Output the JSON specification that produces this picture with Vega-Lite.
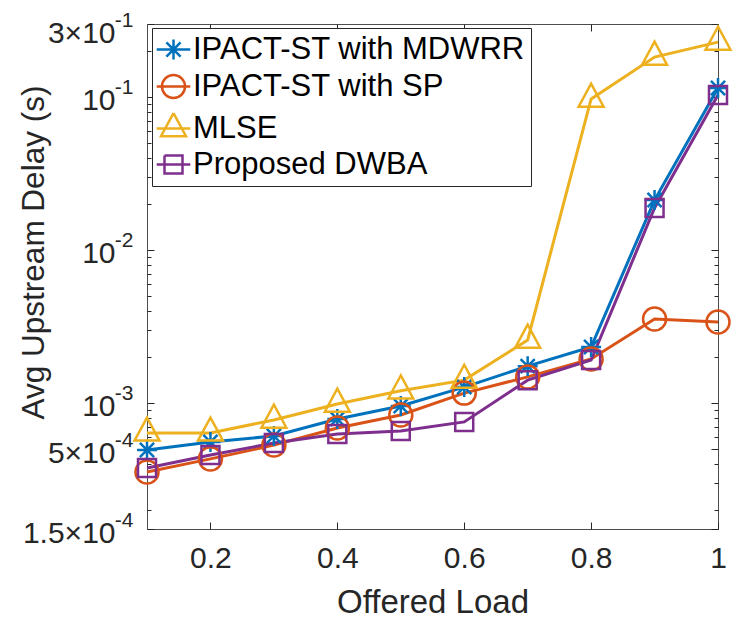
{
  "$schema": "https://vega.github.io/schema/vega-lite/v6.json",
  "width": 571,
  "height": 505,
  "autosize": {"type": "none"},
  "padding": {"left": 147, "top": 24, "right": 22, "bottom": 90},
  "background": "white",
  "config": {
    "font": "Liberation Sans",
    "view": {"stroke": "#4d4d4d", "strokeWidth": 1},
    "axis": {
      "domain": false,
      "grid": false,
      "labelFont": "Liberation Sans",
      "titleFont": "Liberation Sans",
      "labelColor": "#262626",
      "titleColor": "#262626",
      "tickColor": "#262626",
      "tickWidth": 1,
      "labelFlush": false,
      "labelOverlap": false,
      "labelBound": false,
      "titleFontWeight": "normal"
    },
    "legend": {
      "labelFont": "Liberation Sans",
      "labelColor": "#000000",
      "labelLimit": 600
    }
  },
  "data": {
    "values": [
      {"load": 0.1, "delay": 0.000493, "scheme": "IPACT-ST with MDWRR"},
      {"load": 0.2, "delay": 0.000556, "scheme": "IPACT-ST with MDWRR"},
      {"load": 0.3, "delay": 0.000608, "scheme": "IPACT-ST with MDWRR"},
      {"load": 0.4, "delay": 0.000785, "scheme": "IPACT-ST with MDWRR"},
      {"load": 0.5, "delay": 0.000955, "scheme": "IPACT-ST with MDWRR"},
      {"load": 0.6, "delay": 0.00127, "scheme": "IPACT-ST with MDWRR"},
      {"load": 0.7, "delay": 0.00174, "scheme": "IPACT-ST with MDWRR"},
      {"load": 0.8, "delay": 0.00232, "scheme": "IPACT-ST with MDWRR"},
      {"load": 0.9, "delay": 0.0212, "scheme": "IPACT-ST with MDWRR"},
      {"load": 1.0, "delay": 0.1145, "scheme": "IPACT-ST with MDWRR"},
      {"load": 0.1, "delay": 0.000354, "scheme": "IPACT-ST with SP"},
      {"load": 0.2, "delay": 0.000431, "scheme": "IPACT-ST with SP"},
      {"load": 0.3, "delay": 0.000531, "scheme": "IPACT-ST with SP"},
      {"load": 0.4, "delay": 0.000686, "scheme": "IPACT-ST with SP"},
      {"load": 0.5, "delay": 0.000834, "scheme": "IPACT-ST with SP"},
      {"load": 0.6, "delay": 0.00116, "scheme": "IPACT-ST with SP"},
      {"load": 0.7, "delay": 0.00148, "scheme": "IPACT-ST with SP"},
      {"load": 0.8, "delay": 0.00194, "scheme": "IPACT-ST with SP"},
      {"load": 0.9, "delay": 0.00354, "scheme": "IPACT-ST with SP"},
      {"load": 1.0, "delay": 0.00338, "scheme": "IPACT-ST with SP"},
      {"load": 0.1, "delay": 0.000637, "scheme": "MLSE"},
      {"load": 0.2, "delay": 0.000637, "scheme": "MLSE"},
      {"load": 0.3, "delay": 0.000774, "scheme": "MLSE"},
      {"load": 0.4, "delay": 0.000985, "scheme": "MLSE"},
      {"load": 0.5, "delay": 0.0012, "scheme": "MLSE"},
      {"load": 0.6, "delay": 0.00141, "scheme": "MLSE"},
      {"load": 0.7, "delay": 0.00258, "scheme": "MLSE"},
      {"load": 0.8, "delay": 0.0971, "scheme": "MLSE"},
      {"load": 0.9, "delay": 0.1824, "scheme": "MLSE"},
      {"load": 1.0, "delay": 0.2285, "scheme": "MLSE"},
      {"load": 0.1, "delay": 0.000376, "scheme": "Proposed DWBA"},
      {"load": 0.2, "delay": 0.000457, "scheme": "Proposed DWBA"},
      {"load": 0.3, "delay": 0.000547, "scheme": "Proposed DWBA"},
      {"load": 0.4, "delay": 0.000627, "scheme": "Proposed DWBA"},
      {"load": 0.5, "delay": 0.000656, "scheme": "Proposed DWBA"},
      {"load": 0.6, "delay": 0.000752, "scheme": "Proposed DWBA"},
      {"load": 0.7, "delay": 0.00141, "scheme": "Proposed DWBA"},
      {"load": 0.8, "delay": 0.00191, "scheme": "Proposed DWBA"},
      {"load": 0.9, "delay": 0.0188, "scheme": "Proposed DWBA"},
      {"load": 1.0, "delay": 0.1031, "scheme": "Proposed DWBA"}
    ]
  },
  "resolve": {
    "scale": {"x": "shared", "y": "shared"},
    "axis": {"x": "independent", "y": "independent"}
  },
  "layer": [
    {
      "mark": {"type": "line", "strokeWidth": 3},
      "encoding": {
        "x": {
          "field": "load",
          "type": "quantitative",
          "scale": {"domain": [0.1, 1], "nice": false, "zero": false},
          "axis": {
            "orient": "bottom",
            "values": [0.2, 0.4, 0.6, 0.8, 1.0],
            "format": "~g",
            "tickSize": -7,
            "labelFontSize": 30,
            "labelPadding": 21,
            "title": "Offered Load",
            "titleFontSize": 33,
            "titleBaseline": "alphabetic",
            "titleY": 83,
            "titleX": 285.5,
            "titleAlign": "center"
          }
        },
        "y": {
          "field": "delay",
          "type": "quantitative",
          "scale": {"type": "log", "domain": [0.00015, 0.3], "nice": false},
          "axis": {
            "orient": "left",
            "values": [0.00015, 0.0002, 0.0003, 0.0004, 0.0005, 0.0006, 0.0007, 0.0008, 0.0009, 0.001, 0.002, 0.003, 0.004, 0.005, 0.006, 0.007, 0.008, 0.009, 0.01, 0.02, 0.03, 0.04, 0.05, 0.06, 0.07, 0.08, 0.09, 0.1, 0.2, 0.3],
            "tickSize": {"condition": {"test": "indexof([0.00015, 0.0005, 0.001, 0.01, 0.1, 0.3], datum.value) >= 0", "value": -7}, "value": -4},
            "labelExpr": "datum.value == 0.3 ? '3×10' : datum.value == 0.0005 ? '5×10' : datum.value == 0.00015 ? '1.5×10' : (datum.value == 0.1 || datum.value == 0.01 || datum.value == 0.001) ? '10' : ''",
            "labelFontSize": 30,
            "labelPadding": 39,
            "labelBaseline": "middle",
            "labelOffset": {"condition": {"test": "datum.value == 0.3", "value": 9}, "value": 4},
            "title": "Avg Upstream Delay (s)",
            "titleFontSize": 31.5,
            "titleAngle": 270,
            "titleBaseline": "alphabetic",
            "titleAlign": "center",
            "titleX": -104,
            "titleY": 228
          }
        },
        "color": {
          "field": "scheme",
          "type": "nominal",
          "scale": {
            "domain": ["IPACT-ST with MDWRR", "IPACT-ST with SP", "MLSE", "Proposed DWBA"],
            "range": ["#0072BD", "#D95319", "#EDB120", "#7E2F8E"]
          },
          "legend": {
            "title": null,
            "orient": "none",
            "legendX": 5,
            "legendY": 4,
            "symbolSize": 576,
            "symbolStrokeWidth": 2.5,
            "symbolFillColor": "transparent",
            "symbolType": {"expr": "datum.value === 'IPACT-ST with MDWRR' ? 'M-1.4,0L1.4,0M0,-0.83L0,0.83M-0.59,-0.59L0.59,0.59M-0.59,0.59L0.59,-0.59' : datum.value === 'IPACT-ST with SP' ? 'M-1.4,0L1.4,0M0.96,0A0.96,0.96,0,1,1,-0.96,0A0.96,0.96,0,1,1,0.96,0' : datum.value === 'MLSE' ? 'M-1.4,0L1.4,0M0,-1.28L-1.04,0.64L1.04,0.64L0,-1.28' : 'M-1.4,0L1.4,0M-0.75,-0.75L0.75,-0.75L0.75,0.75L-0.75,0.75L-0.75,-0.75'"},
            "rowPadding": 4,
            "padding": 6,
            "labelOffset": 4,
            "labelFontSize": 31,
            "fillColor": "white",
            "strokeColor": "#262626"
          }
        }
      }
    },
    {
      "transform": [{"filter": "datum.scheme === 'IPACT-ST with MDWRR'"}],
      "mark": {"type": "point", "filled": false, "strokeWidth": 2.5, "opacity": 1, "size": 576, "shape": "M-0.83,0L0.83,0M0,-0.83L0,0.83M-0.59,-0.59L0.59,0.59M-0.59,0.59L0.59,-0.59"},
      "encoding": {
        "x": {
          "field": "load",
          "type": "quantitative",
          "axis": {
            "orient": "top",
            "values": [0.2, 0.4, 0.6, 0.8, 1.0],
            "tickSize": -7,
            "labels": false,
            "title": null
          }
        },
        "y": {
          "field": "delay",
          "type": "quantitative",
          "axis": {
            "orient": "right",
            "values": [0.00015, 0.0002, 0.0003, 0.0004, 0.0005, 0.0006, 0.0007, 0.0008, 0.0009, 0.001, 0.002, 0.003, 0.004, 0.005, 0.006, 0.007, 0.008, 0.009, 0.01, 0.02, 0.03, 0.04, 0.05, 0.06, 0.07, 0.08, 0.09, 0.1, 0.2, 0.3],
            "tickSize": {"condition": {"test": "indexof([0.00015, 0.0005, 0.001, 0.01, 0.1, 0.3], datum.value) >= 0", "value": -7}, "value": -4},
            "labels": false,
            "title": null
          }
        },
        "color": {"field": "scheme", "type": "nominal", "legend": null}
      }
    },
    {
      "transform": [{"filter": "datum.scheme === 'IPACT-ST with SP'"}],
      "mark": {"type": "point", "filled": false, "strokeWidth": 2.5, "opacity": 1, "size": 576, "shape": "M0.96,0A0.96,0.96,0,1,1,-0.96,0A0.96,0.96,0,1,1,0.96,0Z"},
      "encoding": {
        "x": {"field": "load", "type": "quantitative", "axis": null},
        "y": {"field": "delay", "type": "quantitative", "axis": null},
        "color": {"field": "scheme", "type": "nominal", "legend": null}
      }
    },
    {
      "transform": [{"filter": "datum.scheme === 'MLSE'"}],
      "mark": {"type": "point", "filled": false, "strokeWidth": 2.5, "opacity": 1, "size": 576, "shape": "M0,-1.28L-1.04,0.64L1.04,0.64Z"},
      "encoding": {
        "x": {"field": "load", "type": "quantitative", "axis": null},
        "y": {"field": "delay", "type": "quantitative", "axis": null},
        "color": {"field": "scheme", "type": "nominal", "legend": null}
      }
    },
    {
      "transform": [{"filter": "datum.scheme === 'Proposed DWBA'"}],
      "mark": {"type": "point", "filled": false, "strokeWidth": 2.5, "opacity": 1, "size": 576, "shape": "M-0.75,-0.75L0.75,-0.75L0.75,0.75L-0.75,0.75Z"},
      "encoding": {
        "x": {"field": "load", "type": "quantitative", "axis": null},
        "y": {"field": "delay", "type": "quantitative", "axis": null},
        "color": {"field": "scheme", "type": "nominal", "legend": null}
      }
    },
    {
      "mark": {"type": "point", "opacity": 0},
      "encoding": {
        "x": {"field": "load", "type": "quantitative", "axis": null},
        "y": {
          "field": "delay",
          "type": "quantitative",
          "axis": {
            "orient": "left",
            "values": [0.00015, 0.0005, 0.001, 0.01, 0.1, 0.3],
            "ticks": false,
            "labelExpr": "datum.value >= 0.1 ? '-1' : datum.value == 0.01 ? '-2' : datum.value == 0.001 ? '-3' : '-4'",
            "labelFontSize": 21,
            "labelPadding": 14,
            "labelBaseline": "middle",
            "labelOffset": {"condition": {"test": "datum.value == 0.3", "value": -4}, "value": -9},
            "title": null
          }
        }
      }
    }
  ]
}
